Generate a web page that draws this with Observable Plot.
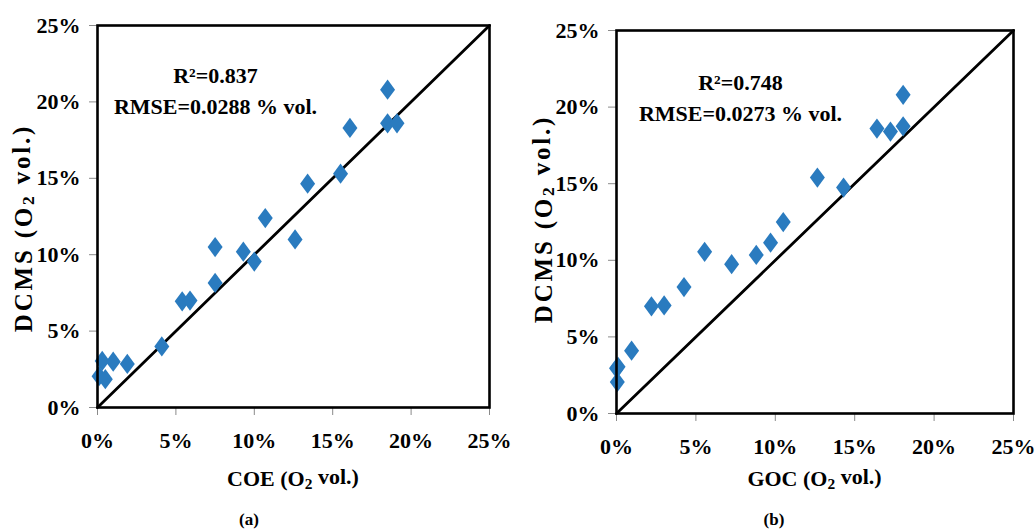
<!DOCTYPE html>
<html>
<head>
<meta charset="utf-8">
<script src="https://cdn.jsdelivr.net/npm/d3@7"></script>
<script src="https://cdn.jsdelivr.net/npm/@observablehq/plot@0.6"></script>
<style>
  html, body { margin: 0; padding: 0; background: #fff; }
  #wrap { position: relative; width: 1035px; height: 529px; font-family: "Liberation Serif", "Times New Roman", serif; }
  .panel { position: absolute; top: 0; }
  .cap { position: absolute; top: 509px; width: 60px; margin-left: -30px; text-align: center; font-weight: bold; font-size: 17px; line-height: 22px; }
</style>
</head>
<body>
<div id="wrap">
  <div class="panel" id="pa" style="left:0px"></div>
  <div class="panel" id="pb" style="left:520px"></div>
  <div class="cap" style="left:249px">(a)</div>
  <div class="cap" style="left:774px">(b)</div>
</div>
<script>
// ---- data (percent O2 vol.) ----
const ticks = [0, 5, 10, 15, 20, 25];
const axisDomain = [0, 25];

const coeX  = [18.5, 18.5, 19.1, 16.1, 15.5, 13.4, 10.7, 12.6, 7.5, 9.3, 10.0, 7.5, 5.4, 5.9, 4.1, 1.9, 1.0, 0.3, 0.1, 0.5];
const dcmsA = [20.8, 18.6, 18.6, 18.3, 15.3, 14.65, 12.4, 11.0, 10.5, 10.2, 9.55, 8.15, 6.95, 7.0, 4.0, 2.85, 3.0, 3.05, 2.05, 1.85];

const gocX  = [18.05, 18.05, 17.25, 16.4, 12.65, 14.3, 10.5, 9.7, 8.8, 7.25, 5.55, 4.25, 3.0, 2.2, 0.95, 0.1, 0.0, 0.05];
const dcmsB = [20.8, 18.75, 18.4, 18.6, 15.4, 14.75, 12.5, 11.15, 10.35, 9.75, 10.55, 8.25, 7.05, 7.0, 4.1, 3.05, 2.95, 2.05];

const statsA = ["R²=0.837", "RMSE=0.0288 % vol."];
const statsB = ["R²=0.748", "RMSE=0.0273 % vol."];
const xLabelA = ["COE (O", "2", " vol.)"];
const xLabelB = ["GOC (O", "2", " vol.)"];
const yLabel = ["DCMS (O", "2", " vol.)"];

// ---- styling ----
const blue = "#2a7bbf";
const font = "'Liberation Serif', 'Times New Roman', serif";
const tallDiamond = {
  draw(ctx, size) {
    const r = Math.sqrt(size / Math.PI);
    const h = r * 1.35;
    ctx.moveTo(0, -h); ctx.lineTo(r, 0); ctx.lineTo(0, h); ctx.lineTo(-r, 0); ctx.closePath();
  }
};

function addLabel(svg, parts, x, y, rotate) {
  const t = d3.select(svg).append("text")
    .attr("transform", `translate(${x},${y})` + (rotate ? " rotate(-90)" : ""))
    .attr("text-anchor", "middle")
    .attr("dominant-baseline", "central")
    .attr("font-family", font)
    .attr("font-weight", "bold")
    .attr("font-size", rotate ? 25 : 22)
    .attr("letter-spacing", rotate ? 2.8 : 0)
    .attr("fill", "black");
  t.append("tspan").text(parts[0]);
  t.append("tspan").attr("font-size", "70%").attr("dy", "0.3em").text(parts[1]);
  t.append("tspan").attr("dy", "-0.3em").text(parts[2]);
}

function panel({xs, ys, stats, xLabel, width, height, mt, mr, mb, ml, sdx, sdy, ylx, yly}) {
  const pts = xs.map((x, i) => ({x, y: ys[i]}));
  const diag = axisDomain.map(v => ({x: v, y: v}));
  const svg = Plot.plot({
    width, height,
    marginTop: mt, marginRight: mr, marginBottom: mb, marginLeft: ml,
    style: {fontFamily: font, fontSize: "22px", fontWeight: "bold", background: "white", overflow: "visible"},
    x: {domain: axisDomain, label: null, axis: null},
    y: {domain: axisDomain, label: null, axis: null},
    marks: [
      Plot.axisX({ticks, tickSize: 8, tickPadding: 17, stroke: "#8a8a8a", fill: "black",
                  tickFormat: d => d + "%", label: null, fontSize: 22}),
      Plot.axisY({ticks, tickSize: 8, tickPadding: 9, stroke: "#8a8a8a", fill: "black",
                  tickFormat: d => d + "%", label: null, fontSize: 22}),
      Plot.line(diag, {x: "x", y: "y", stroke: "black", strokeWidth: 2.8}),
      Plot.dot(pts, {x: "x", y: "y", symbol: tallDiamond, r: 7.5, fill: blue, stroke: "none"}),
      Plot.frame({stroke: "black", strokeWidth: 2.6}),
      Plot.text([stats[0]], {text: d => d, frameAnchor: "top-left", dx: sdx, dy: sdy,
                             textAnchor: "middle", lineAnchor: "middle", fontSize: 22, fontWeight: "bold", fill: "black"}),
      Plot.text([stats[1]], {text: d => d, frameAnchor: "top-left", dx: sdx, dy: sdy + 31,
                             textAnchor: "middle", lineAnchor: "middle", fontSize: 22, fontWeight: "bold", fill: "black"})
    ]
  });
  const cx = ml + (width - ml - mr) / 2;
  addLabel(svg, xLabel, cx, 478, false);
  addLabel(svg, yLabel, ylx, yly, true);
  return svg;
}

document.getElementById("pa").appendChild(panel({
  xs: coeX, ys: dcmsA, stats: statsA, xLabel: xLabelA,
  width: 517, height: 490, mt: 25, mr: 28, mb: 83, ml: 97,
  sdx: 118, sdy: 50, ylx: 23, yly: 228
}));
document.getElementById("pb").appendChild(panel({
  xs: gocX, ys: dcmsB, stats: statsB, xLabel: xLabelB,
  width: 515, height: 496, mt: 30, mr: 22, mb: 83, ml: 96,
  sdx: 124, sdy: 52, ylx: 23, yly: 219
}));
</script>
</body>
</html>
